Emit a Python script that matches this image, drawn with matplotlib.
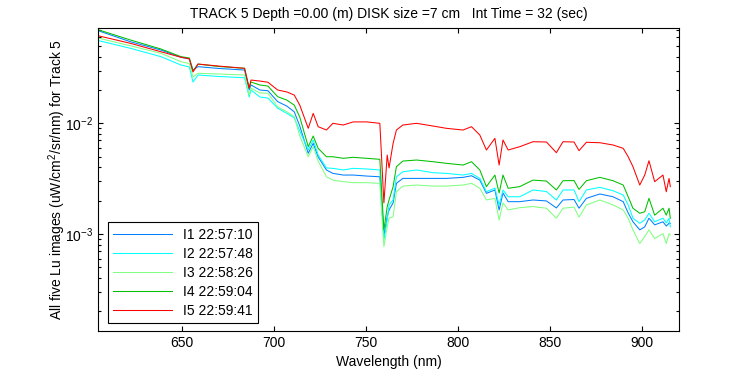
import numpy as np
import matplotlib
matplotlib.use('Agg')
import matplotlib.pyplot as plt
from matplotlib.ticker import LogLocator, NullFormatter

plt.rcParams['font.family'] = ['Liberation Sans', 'DejaVu Sans']
plt.rcParams['mathtext.fontset'] = 'custom'
plt.rcParams['mathtext.rm'] = 'Liberation Sans'
plt.rcParams['mathtext.it'] = 'Liberation Sans:italic'
plt.rcParams['mathtext.bf'] = 'Liberation Sans:bold'

# wavelength (nm)
wl = [605, 622, 638.6, 649.5, 654, 656, 658.7, 670, 684, 686.5, 687.5, 692.3, 696.7, 702, 707, 711,
      714, 718.6, 721.3, 724, 728.5, 732, 737.6, 743, 750.3, 757.5, 759.7, 761.5, 762.5, 764.7, 766.5, 770,
      777.4, 786.4, 793.7, 802.7, 807.3, 811.8, 815.4, 820, 822.3, 824.4, 827.2, 833.5, 840.7, 848, 853.4, 857,
      863, 865.7, 869.7, 877, 884.2, 889.7, 892.4, 895, 898.7, 901.4, 903.7, 906.8, 911.3, 913.1, 914.6, 915.3]

# Lu, uW/cm^2/sr/nm
I1 = [.0682, .0546, .0459, .0395, .0381, .0303, .0325, .0313, .0303, .0200, .0222, .0200, .0197, .0157, .0143, .0127,
      .00945, .00536, .00660, .00496, .00379, .00353, .00341, .00341, .00334, .00329, .00096, .00143, .00165, .00191, .00287, .00318,
      .00318, .00318, .00318, .00325, .00336, .00307, .00233, .00250, .00165, .00235, .00196, .00196, .00203, .00199, .00172, .00203,
      .00205, .00171, .00210, .00230, .00217, .00196, .00155, .00129, .00109, .00116, .00139, .00121, .00129, .00118, .00125, .00125]
I2 = [.0557, .0476, .0400, .0336, .0323, .0236, .0273, .0265, .0258, .0173, .0200, .0173, .0169, .0137, .0123, .0112,
      .00852, .00574, .00707, .00517, .00395, .00392, .00379, .00392, .00387, .00379, .00088, .00134, .00183, .00203, .00329, .00365,
      .00379, .00358, .00353, .00341, .00353, .00318, .00241, .00260, .00183, .00250, .00217, .00217, .00250, .00242, .00203, .00250,
      .00250, .00196, .00250, .00264, .00246, .00225, .00183, .00139, .00125, .00134, .00154, .00129, .00139, .00126, .00139, .00116]
I3 = [.0586, .0502, .0429, .0360, .0347, .0262, .0283, .0279, .0273, .0180, .0208, .0188, .0187, .0141, .0127, .0115,
      .00768, .00499, .00615, .00456, .00329, .00307, .00297, .00291, .00291, .00287, .00077, .00116, .00139, .00143, .00241, .00271,
      .00277, .00271, .00271, .00277, .00287, .00259, .00203, .00210, .00134, .00191, .00165, .00173, .00177, .00171, .00139, .00171,
      .00175, .00142, .00183, .00203, .00183, .00165, .00139, .00109, .00082, .00095, .00109, .00091, .00101, .00082, .00101, .00098]
I4 = [.0696, .0566, .0469, .0400, .0389, .0297, .0343, .0326, .0314, .0208, .0236, .0222, .0217, .0174, .0162, .0146,
      .0114, .00615, .00768, .00594, .00499, .00499, .00483, .00493, .00483, .00473, .00109, .00177, .00203, .00268, .00406, .00456,
      .00466, .00450, .00435, .00420, .00450, .00379, .00268, .00341, .00235, .00341, .00259, .00268, .00307, .00301, .00250, .00303,
      .00304, .00253, .00303, .00325, .00303, .00277, .00217, .00171, .00154, .00159, .00210, .00148, .00171, .00148, .00171, .00139]
I5 = [.0615, .0528, .0443, .0395, .0383, .0291, .0343, .0329, .0314, .0208, .0246, .0241, .0235, .0200, .0192, .0180,
      .0146, .00901, .0123, .00932, .00870, .0100, .00965, .0103, .0103, .0100, .00191, .00517, .00395, .00660, .00870, .00965,
      .0100, .00945, .00901, .00870, .00932, .00784, .00574, .00732, .00420, .00707, .00574, .00615, .00682, .00678, .00543, .00682,
      .00678, .00566, .00674, .00668, .00637, .00594, .00499, .00406, .00277, .00341, .00459, .00297, .00341, .00241, .00318, .00268]

labels = ['I1 22:57:10', 'I2 22:57:48', 'I3 22:58:26', 'I4 22:59:04', 'I5 22:59:41']
colors = ['#0080ff', '#00ffff', '#80ff80', '#00c000', '#ff0000']

fig = plt.figure(figsize=(7.5, 3.75), dpi=100)
ax = fig.add_axes([0.1307, 0.1173, 0.7746, 0.808])

for y, c, lab in zip([I1, I2, I3, I4, I5], colors, labels):
    ax.plot(wl, y, color=c, lw=0.75, label=lab)

ax.set_yscale('log')
ax.set_xlim(604.4, 920)
ax.set_ylim(1.33e-4, 0.0726)
ax.set_xticks([650, 700, 750, 800, 850, 900])
ax.yaxis.set_major_locator(LogLocator(base=10))
ax.yaxis.set_minor_locator(LogLocator(base=10, subs=np.arange(2, 10)))
ax.yaxis.set_minor_formatter(NullFormatter())
ax.tick_params(which='both', direction='in', top=True, right=True, labelsize=10)
ax.tick_params(which='major', length=3.6, width=0.8)
ax.tick_params(which='minor', length=2.4, width=0.8)
for s in ax.spines.values():
    s.set_linewidth(0.8)

ax.set_title('TRACK 5 Depth =0.00 (m) DISK size =7 cm   Int Time = 32 (sec)', fontsize=10, pad=7)
ax.set_xlabel('Wavelength (nm)', fontsize=10)
ax.set_ylabel('All five Lu images (uW/cm$^2$/sr/nm) for Track 5', fontsize=10, labelpad=-2)

leg = ax.legend(loc='lower left', bbox_to_anchor=(0.017, 0.026), fontsize=10, handlelength=4.2,
                labelspacing=0.36, borderaxespad=0, fancybox=False, framealpha=1, edgecolor='black')
leg.get_frame().set_linewidth(0.8)

fig.savefig('out.png', dpi=100)
